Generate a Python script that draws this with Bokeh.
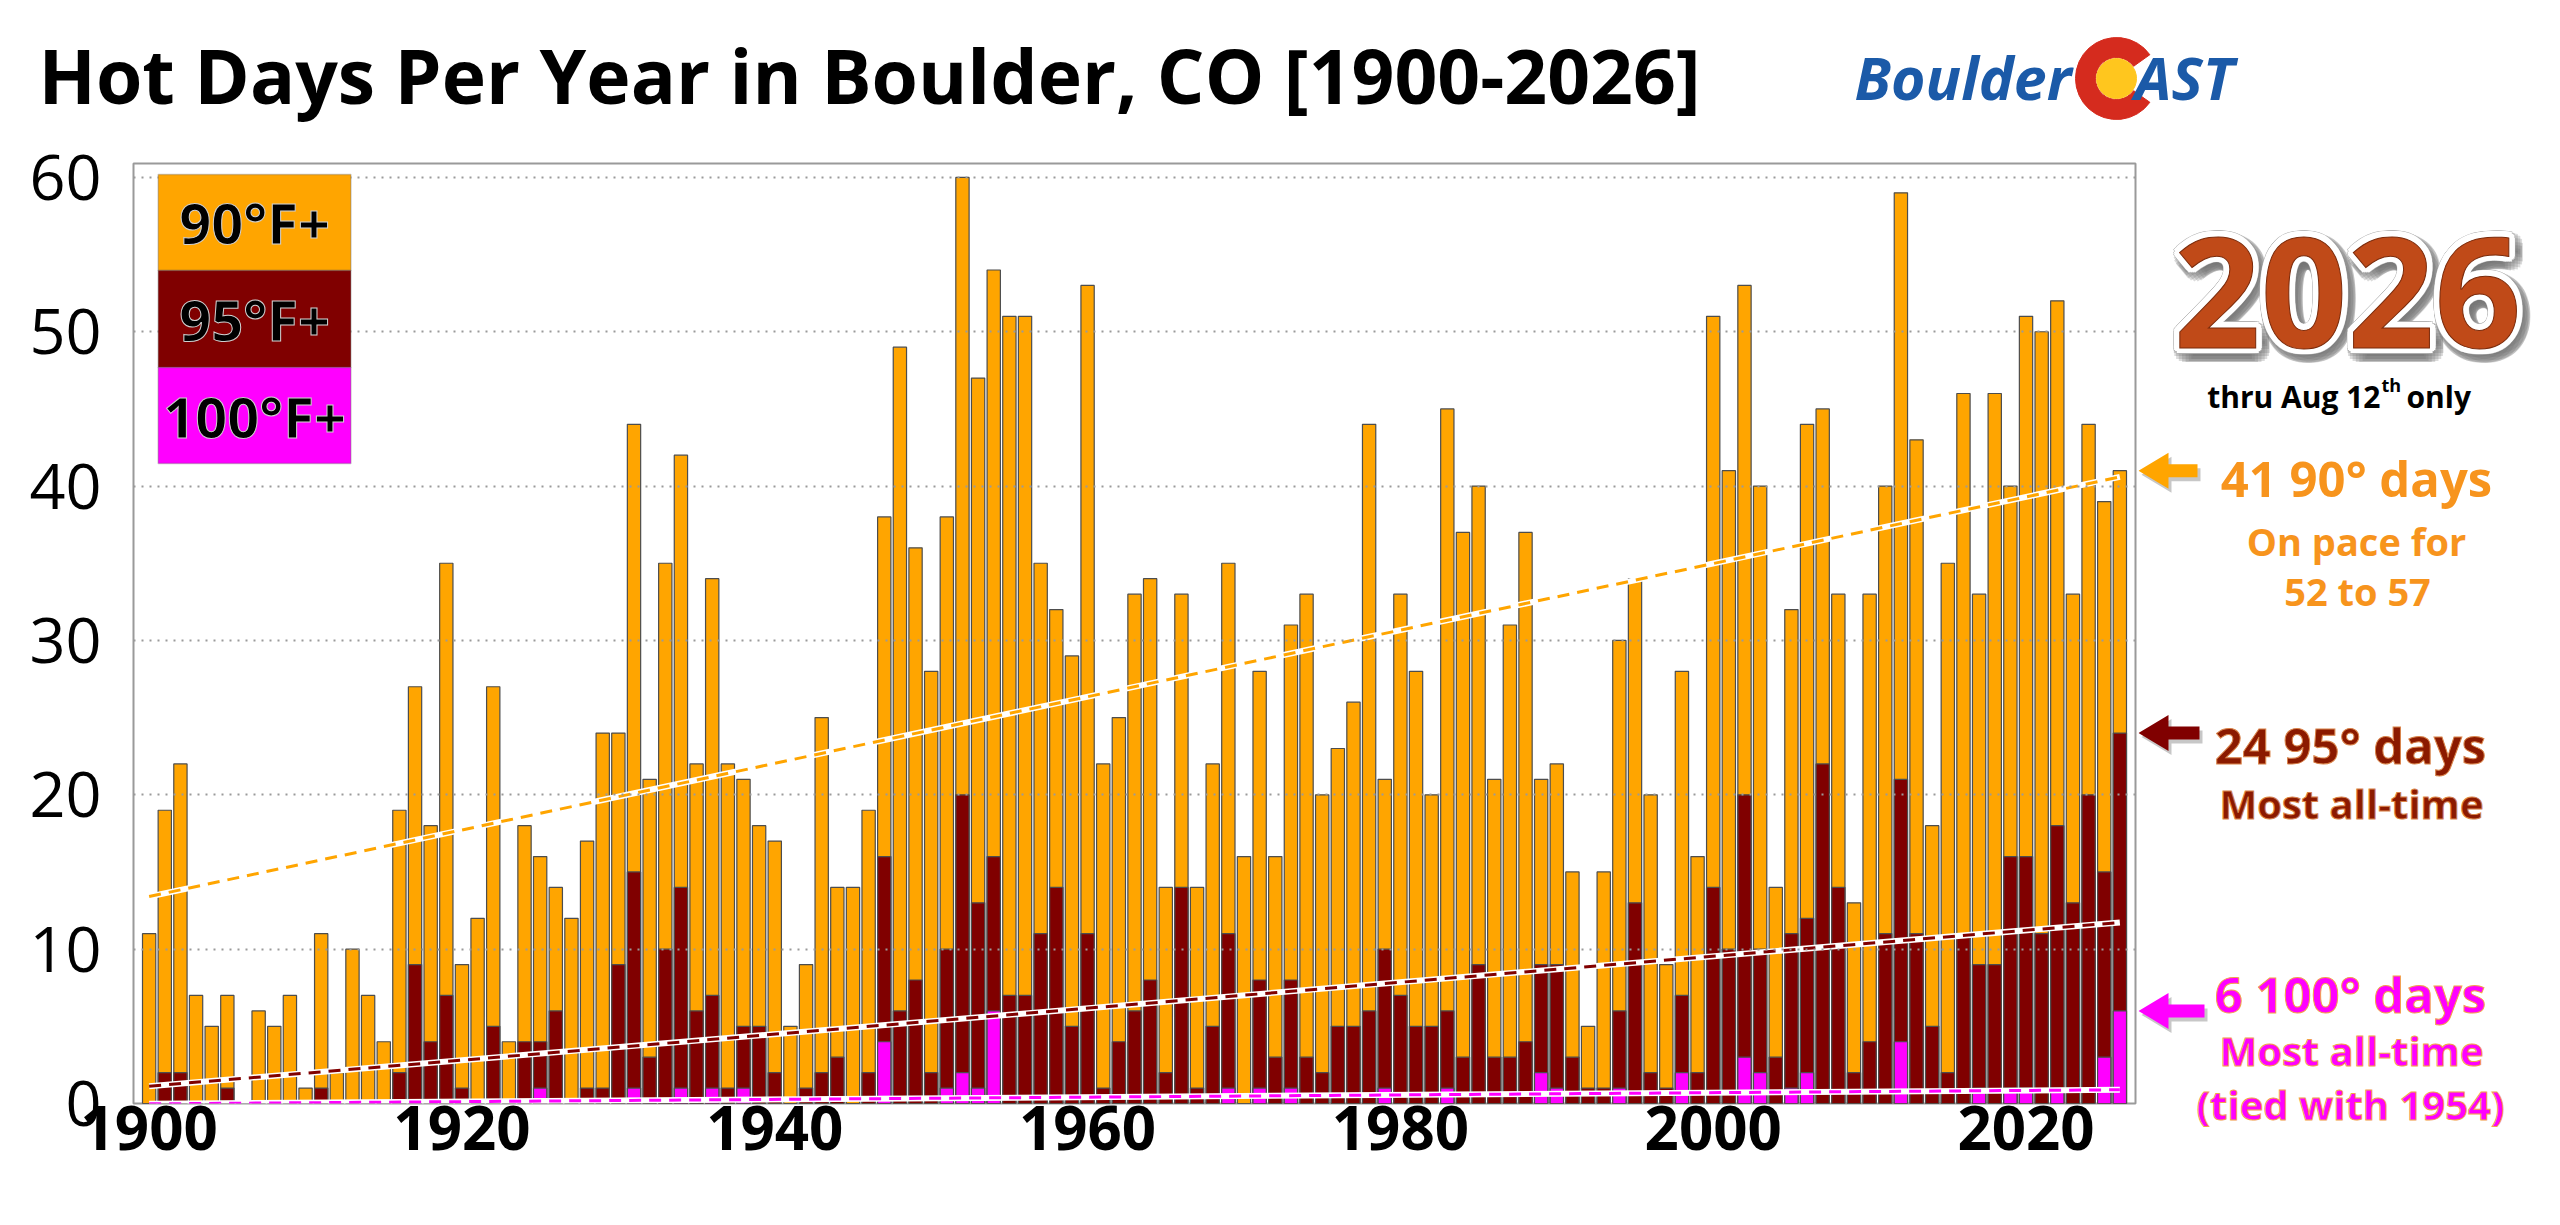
import math
import numpy as np
from bokeh.plotting import figure
from bokeh.models import Range1d, FixedTicker, BoxAnnotation, Label, ColumnDataSource
from bokeh.layouts import column, row
from bokeh.embed import file_html
from bokeh.resources import INLINE
from bokeh.core.properties import value

# ---------------- data ----------------
years = list(range(1900, 2027))

days90 = [
    11, 19, 22, 7, 5, 7, 0, 6, 5, 7,
    1, 11, 2, 10, 7, 4, 19, 27, 18, 35,
    9, 12, 27, 4, 18, 16, 14, 12, 17, 24,
    24, 44, 21, 35, 42, 22, 34, 22, 21, 18,
    17, 5, 9, 25, 14, 14, 19, 38, 49, 36,
    28, 38, 60, 47, 54, 51, 51, 35, 32, 29,
    53, 22, 25, 33, 34, 14, 33, 14, 22, 35,
    16, 28, 16, 31, 33, 20, 23, 26, 44, 21,
    33, 28, 20, 45, 37, 40, 21, 31, 37, 21,
    22, 15, 5, 15, 30, 34, 20, 9, 28, 16,
    51, 41, 53, 40, 14, 32, 44, 45, 33, 13,
    33, 40, 59, 43, 18, 35, 46, 33, 46, 40,
    51, 50, 52, 33, 44, 39, 41,
]

days95 = [
    0, 2, 2, 0, 0, 1, 0, 0, 0, 0,
    0, 1, 0, 0, 0, 0, 2, 9, 4, 7,
    1, 0, 5, 0, 4, 4, 6, 0, 1, 1,
    9, 15, 3, 10, 14, 6, 7, 1, 5, 5,
    2, 0, 1, 2, 3, 0, 2, 16, 6, 8,
    2, 10, 20, 13, 16, 7, 7, 11, 14, 5,
    11, 1, 4, 6, 8, 2, 14, 1, 5, 11,
    0, 8, 3, 8, 3, 2, 5, 5, 6, 10,
    7, 5, 5, 6, 3, 9, 3, 3, 4, 9,
    9, 3, 1, 1, 6, 13, 2, 1, 7, 2,
    14, 10, 20, 10, 3, 11, 12, 22, 14, 2,
    4, 11, 21, 11, 5, 2, 11, 9, 9, 16,
    16, 11, 18, 13, 20, 15, 24,
]

days100 = [
    0, 0, 0, 0, 0, 0, 0, 0, 0, 0,
    0, 0, 0, 0, 0, 0, 0, 0, 0, 0,
    0, 0, 0, 0, 0, 1, 0, 0, 0, 0,
    0, 1, 0, 0, 1, 0, 1, 0, 1, 0,
    0, 0, 0, 0, 0, 0, 0, 4, 0, 0,
    0, 1, 2, 1, 6, 0, 0, 0, 0, 0,
    0, 0, 0, 0, 0, 0, 0, 0, 0, 1,
    0, 1, 0, 1, 0, 0, 0, 0, 0, 1,
    0, 0, 0, 1, 0, 0, 0, 0, 0, 2,
    1, 0, 0, 0, 1, 0, 0, 0, 2, 0,
    0, 0, 3, 2, 0, 1, 2, 0, 0, 0,
    0, 0, 4, 0, 0, 0, 0, 1, 0, 1,
    1, 0, 1, 0, 0, 3, 6,
]

x_ticks = [1900, 1920, 1940, 1960, 1980, 2000, 2020]
y_ticks = [0, 10, 20, 30, 40, 50, 60]
legend_labels = ["90°F+", "95°F+", "100°F+"]

title_text = "Hot Days Per Year in Boulder, CO [1900-2026]"

C90 = "#FFA500"
C95 = "#800000"
C100 = "#FF00FF"
FONT = value("Open Sans")

# ---------------- geometry ----------------
MARGIN = 8
TOTAL_W = 2544
TOP_H = 132
MAIN_W = 2138
RIGHT_W = TOTAL_W - MAIN_W
TOP_B = 31
BOT_B = 100
LEFT_B = 133
FRAME_H = 940
MAIN_H = TOP_B + FRAME_H + BOT_B
Y_MAX = 60.9
FT = MARGIN + TOP_H + TOP_B          # frame top, page pixels
RX0 = MARGIN + MAIN_W                # left edge of right panel, page pixels
PAGE_BOTTOM = MARGIN + TOP_H + MAIN_H

# ---------------- main chart ----------------
src = ColumnDataSource(dict(year=years, d90=days90, d95=days95, d100=days100))

p = figure(width=MAIN_W, height=MAIN_H, x_range=Range1d(1899.0, 2027.0),
           y_range=Range1d(0, Y_MAX), output_backend="svg", toolbar_location=None,
           min_border_left=LEFT_B, min_border_right=3, min_border_top=TOP_B,
           min_border_bottom=BOT_B, title=None)
p.outline_line_color = "#9a9a9a"
p.outline_line_width = 2

bar_kw = dict(x="year", width=0.85, bottom=0, source=src, line_color="#4d4d4d", line_width=1.2)
p.vbar(top="d90", fill_color=C90, **bar_kw)
p.vbar(top="d95", fill_color=C95, **bar_kw)
p.vbar(top="d100", fill_color=C100, **bar_kw)

# linear trend lines fitted to each series
yrs = np.array(years, dtype=float)
for series, col in ((days90, C90), (days95, C95), (days100, C100)):
    k, b = np.polyfit(yrs, np.array(series, dtype=float), 1)
    xs = [yrs[0], yrs[-1]]
    ys = [k * xs[0] + b, k * xs[1] + b]
    p.line(xs, ys, line_color="white", line_width=6)
    p.line(xs, ys, line_color=col, line_width=3, line_dash="12 8")

p.xgrid.visible = False
p.ygrid.grid_line_color = "#9a9a9a"
p.ygrid.grid_line_width = 2
p.ygrid.grid_line_dash = "2 6"
p.ygrid.level = "guide"

p.yaxis.ticker = FixedTicker(ticks=y_ticks)
p.xaxis.ticker = FixedTicker(ticks=x_ticks)
for ax in (p.xaxis, p.yaxis):
    ax.axis_line_color = None
    ax.major_tick_line_color = None
    ax.minor_tick_line_color = None
    ax.major_tick_out = 0
    ax.major_tick_in = 0
    ax.major_label_text_font = "Open Sans"
    ax.major_label_text_color = "black"
p.yaxis.major_label_text_font_size = "63px"
p.yaxis.major_label_standoff = 32
p.xaxis.major_label_text_font_size = "60px"
p.xaxis.major_label_text_font_style = "bold"
p.xaxis.major_label_standoff = 2

# legend block (drawn)
leg_left, leg_right = 1900.58, 1912.9
leg_edges = [60.19, 53.97, 47.68, 41.46]
for i, (lab, col) in enumerate(zip(legend_labels, (C90, C95, C100))):
    box = BoxAnnotation(left=leg_left, right=leg_right, top=leg_edges[i], bottom=leg_edges[i + 1],
                        fill_color=col, fill_alpha=1.0, line_color="#555555", line_width=1.5,
                        level="overlay")
    p.add_layout(box)
    p.add_layout(Label(x=(leg_left + leg_right) / 2, y=(leg_edges[i] + leg_edges[i + 1]) / 2,
                       text=lab, text_font="Open Sans", text_font_size="56px",
                       text_font_style="bold", text_color="black", text_outline_color="#d0d0d0",
                       text_align="center", text_baseline="middle", level="overlay"))

# ---------------- right-side annotations (page-pixel coordinates) ----------------
pr = figure(width=RIGHT_W, height=MAIN_H, x_range=Range1d(RX0, RX0 + RIGHT_W),
            y_range=Range1d(PAGE_BOTTOM, FT), output_backend="svg", toolbar_location=None,
            min_border_left=0, min_border_right=0, min_border_top=TOP_B, min_border_bottom=0,
            x_axis_location=None, y_axis_location=None, title=None)
pr.grid.visible = False
pr.outline_line_color = None


def y_page(v):
    return FT + (Y_MAX - v) / Y_MAX * FRAME_H


# 2026 emblem
cx, cy = 2355, 300
sh_x, sh_y, wh_x, wh_y = [], [], [], []
for a in range(0, 360, 20):
    r = math.radians(a)
    sh_x.append(cx + 4 + 10 * math.cos(r)); sh_y.append(cy + 5 + 10 * math.sin(r))
    wh_x.append(cx + 6 * math.cos(r)); wh_y.append(cy + 6 * math.sin(r))
big = dict(text_font=FONT, text_font_style="bold", text_font_size=value("152px"),
           text_align="center", text_baseline="middle")
pr.text(x=sh_x, y=sh_y, text=["2026"] * len(sh_x), text_color="#6e6e6e", text_alpha=0.25, **big)
pr.text(x=wh_x, y=wh_y, text=["2026"] * len(wh_x), text_color="white",
        text_outline_color="#b0b0b0", **big)
pr.text(x=wh_x, y=wh_y, text=["2026"] * len(wh_x), text_color="white", **big)
pr.text(x=[cx], y=[cy], text=["2026"], text_color="#C04A18", text_outline_color="#7a2a0a", **big)

# "thru Aug 12th only"
small = dict(text_font=FONT, text_font_style="bold", text_color="black", text_baseline="alphabetic")
pr.text(x=[2388], y=[404], text=["thru Aug 12"], text_align="right",
        text_font_size=value("30px"), **small)
pr.text(x=[2389], y=[392], text=["th"], text_align="left",
        text_font_size=value("18px"), **small)
pr.text(x=[2414], y=[404], text=["only"], text_align="left",
        text_font_size=value("30px"), **small)


def arrow(v, color, tail):
    yc = y_page(v)
    hl, hh, st = 30, 18, 6.5
    x0 = RX0
    xs = [x0, x0 + hl, x0 + hl, x0 + tail, x0 + tail, x0 + hl, x0 + hl]
    ys = [yc, yc - hh, yc - st, yc - st, yc + st, yc + st, yc + hh]
    pr.patch([x + 3 for x in xs], [y + 4 for y in ys], color="black", alpha=0.22, line_width=0)
    pr.patch(xs, ys, color=color, line_width=0)


arrow(days90[-1], C90, 59)
arrow(days95[-1], C95, 61)
arrow(days100[-1], C100, 66)


def note(x, y, txt, color, size, outline=None):
    pr.add_layout(Label(x=x, y=y, text=txt, text_font="Open Sans", text_font_style="bold",
                        text_font_size=size, text_color=color, text_outline_color=outline,
                        text_align="center", text_baseline="middle"))


note(2364, 485, f"{days90[-1]} 90° days", "#F7941D", "49px")
note(2364, 548, "On pace for", "#F7941D", "38px")
note(2365, 598, "52 to 57", "#F7941D", "38px")
note(2358, 752, f"{days95[-1]} 95° days", "#8B1A00", "49px", "#d9844a")
note(2359, 811, "Most all-time", "#8B1A00", "40px", "#d9844a")
note(2358, 1001, f"{days100[-1]} 100° days", "#FF00FF", "49px", "#f2a24a")
note(2359, 1058, "Most all-time", "#FF00FF", "40px", "#f2a24a")
note(2358, 1112, "(tied with 1954)", "#FF00FF", "40px", "#f2a24a")

# ---------------- top: title + logo (page-pixel coordinates) ----------------
pt = figure(width=TOTAL_W, height=TOP_H, x_range=Range1d(MARGIN, MARGIN + TOTAL_W),
            y_range=Range1d(MARGIN + TOP_H, MARGIN), output_backend="svg", toolbar_location=None,
            min_border=0, x_axis_location=None, y_axis_location=None, title=None)
pt.grid.visible = False
pt.outline_line_color = None
pt.text(x=[46], y=[82], text=[title_text], text_font=FONT, text_font_style="bold",
        text_font_size=value("75px"), text_color="black", text_align="left", text_baseline="middle")

logo = dict(text_font=FONT, text_font_style="bold italic", text_font_size=value("59px"),
            text_color="#1B5AA8", text_baseline="middle")
pt.text(x=[1862], y=[84], text=["Boulder"], text_align="left", **logo)
pt.annular_wedge(x=[2124], y=[86], inner_radius=21, outer_radius=41,
                 start_angle=0.62, end_angle=2 * math.pi - 0.62, color="#D52B1E")
pt.circle(x=[2124], y=[86], radius=20, color="#FFC61E")
pt.text(x=[2142], y=[84], text=["AST"], text_align="left", **logo)

layout = column(pt, row(p, column(pr)))
open("out.html", "w").write(file_html(layout, INLINE))
